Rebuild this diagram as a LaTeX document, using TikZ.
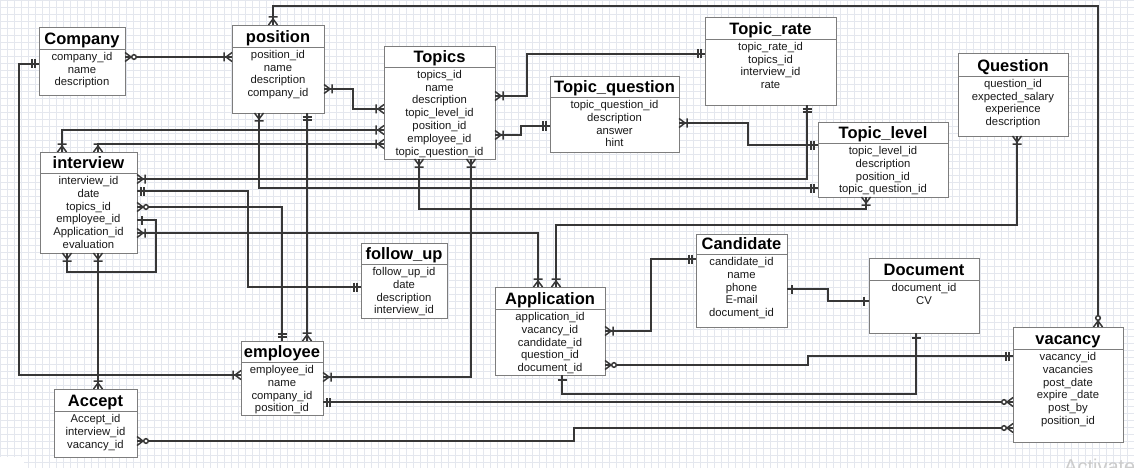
\documentclass[tikz,border=0pt]{standalone}
\usepackage{fontspec}
\setmainfont{Liberation Sans}
\usetikzlibrary{arrows.meta}
\definecolor{gridc}{RGB}{228,231,238}
\definecolor{boxc}{RGB}{125,125,125}
\definecolor{linec}{RGB}{55,55,55}
\definecolor{txtc}{RGB}{25,25,25}

% ER markers (tip at the entity border, line runs through)
\pgfdeclarearrow{
  name = ERmany,
  parameters = {\the\pgfarrowlinewidth},
  setup code = {\pgfarrowssettipend{0pt}\pgfarrowssetlineend{0pt}\pgfarrowssetbackend{-7pt}},
  drawing code = {
    \pgfsetdash{}{0pt}
    \pgfpathmoveto{\pgfqpoint{0pt}{4.5pt}}
    \pgfpathlineto{\pgfqpoint{-6pt}{0pt}}
    \pgfpathlineto{\pgfqpoint{0pt}{-4.5pt}}
    \pgfusepathqstroke
  }
}
\pgfdeclarearrow{
  name = ERom,
  parameters = {\the\pgfarrowlinewidth},
  setup code = {\pgfarrowssettipend{0pt}\pgfarrowssetlineend{0pt}\pgfarrowssetbackend{-9pt}},
  drawing code = {
    \pgfsetdash{}{0pt}
    \pgfpathmoveto{\pgfqpoint{0pt}{4.5pt}}
    \pgfpathlineto{\pgfqpoint{-6pt}{0pt}}
    \pgfpathlineto{\pgfqpoint{0pt}{-4.5pt}}
    \pgfpathmoveto{\pgfqpoint{-8pt}{4.5pt}}
    \pgfpathlineto{\pgfqpoint{-8pt}{-4.5pt}}
    \pgfusepathqstroke
  }
}
\pgfdeclarearrow{
  name = ERzm,
  parameters = {\the\pgfarrowlinewidth},
  setup code = {\pgfarrowssettipend{0pt}\pgfarrowssetlineend{0pt}\pgfarrowssetbackend{-12pt}},
  drawing code = {
    \pgfsetdash{}{0pt}
    \pgfpathmoveto{\pgfqpoint{0pt}{4.5pt}}
    \pgfpathlineto{\pgfqpoint{-6pt}{0pt}}
    \pgfpathlineto{\pgfqpoint{0pt}{-4.5pt}}
    \pgfusepathqstroke
    \pgfsetfillcolor{white}
    \pgfpathcircle{\pgfqpoint{-9pt}{0pt}}{2.3pt}
    \pgfusepathqfillstroke
  }
}
\pgfdeclarearrow{
  name = ERmo,
  parameters = {\the\pgfarrowlinewidth},
  setup code = {\pgfarrowssettipend{0pt}\pgfarrowssetlineend{0pt}\pgfarrowssetbackend{-8pt}},
  drawing code = {
    \pgfsetdash{}{0pt}
    \pgfpathmoveto{\pgfqpoint{-4pt}{4.5pt}}
    \pgfpathlineto{\pgfqpoint{-4pt}{-4.5pt}}
    \pgfpathmoveto{\pgfqpoint{-7pt}{4.5pt}}
    \pgfpathlineto{\pgfqpoint{-7pt}{-4.5pt}}
    \pgfusepathqstroke
  }
}
\pgfdeclarearrow{
  name = ERone,
  parameters = {\the\pgfarrowlinewidth},
  setup code = {\pgfarrowssettipend{0pt}\pgfarrowssetlineend{0pt}\pgfarrowssetbackend{-6pt}},
  drawing code = {
    \pgfsetdash{}{0pt}
    \pgfpathmoveto{\pgfqpoint{-5pt}{4.5pt}}
    \pgfpathlineto{\pgfqpoint{-5pt}{-4.5pt}}
    \pgfusepathqstroke
  }
}

\tikzset{
  erbox/.style={rectangle, draw=boxc, fill=white, line width=0.9pt, inner sep=0pt, outer sep=0pt},
  erline/.style={draw=boxc, line width=0.9pt},
  ertitle/.style={anchor=base, inner sep=0pt, font=\fontsize{16.5}{18}\selectfont\bfseries, text=black},
  errow/.style={anchor=base, inner sep=0pt, font=\fontsize{11.3}{12.75}\selectfont, text=txtc},
  conn/.style={draw=linec, line width=1.5pt, line join=miter},
}

% #1 name, #2 x1, #3 y1, #4 x2, #5 y2, #6 y of header line, #7 title, #8 rows
\newcommand\erbox[8]{%
  \node[erbox, minimum width={#4-#2}, minimum height={#5-#3}, anchor=north west] (#1) at (#2,#3) {};
  \draw[erline] (#2,#6) -- (#4,#6);
  \node[ertitle] (#1-title) at ({(#2+#4)/2},{#6-4.5}) {#7};
  \foreach \rr [count=\ii] in {#8} {
    \node[errow] (#1-r\ii) at ({(#2+#4)/2},{#6+11.5+(\ii-1)*12.75}) {\rr};
  }
}

\begin{document}
\begin{tikzpicture}[x=1pt,y=-1pt]
\useasboundingbox (0,0) rectangle (1134,468);
\clip (0,0) rectangle (1134,468);
\fill[white] (0,0) rectangle (1134,468);
\draw[gridc, line width=0.7pt, xstep=7pt, ystep=7pt] (0,0) grid (1134,468);
\fill[white] (0,457) rectangle (24,468);

\erbox{company}{39}{27}{125}{95}{49}{Company}{company\_id,name,description}
\erbox{position}{232}{25}{324}{113}{47}{position}{position\_id,name,description,company\_id}
\erbox{topics}{384}{46}{495}{159}{67}{Topics}{topics\_id,name,description,topic\_level\_id,position\_id,employee\_id,topic\_question\_id}
\erbox{topicq}{550}{76}{679}{152}{97}{Topic\_question}{topic\_question\_id,description,answer,hint}
\erbox{topicrate}{705}{17}{836}{105}{39}{Topic\_rate}{topic\_rate\_id,topics\_id,interview\_id,rate}
\erbox{topiclevel}{818}{122}{948}{197}{143}{Topic\_level}{topic\_level\_id,description,position\_id,topic\_question\_id}
\erbox{question}{958}{53}{1068}{136}{76}{Question}{question\_id,expected\_salary,experience,description}
\erbox{interview}{40}{152}{137}{253}{173}{interview}{interview\_id,date,topics\_id,employee\_id,Application\_id,evaluation}
\erbox{followup}{361}{243}{447}{318}{264}{follow\_up}{follow\_up\_id,date,description,interview\_id}
\erbox{application}{495}{287}{605}{375}{309}{Application}{application\_id,vacancy\_id,candidate\_id,question\_id,document\_id}
\erbox{candidate}{696}{234}{787}{327}{254}{Candidate}{candidate\_id,name,phone,E-mail,document\_id}
\erbox{document}{869}{258}{979}{333}{280}{Document}{document\_id,CV}
\erbox{vacancy}{1013}{327}{1123}{442}{349}{vacancy}{vacancy\_id,vacancies,post\_date,expire \_date,post\_by,position\_id}
\erbox{employee}{241}{341}{323}{415}{362}{employee}{employee\_id,name,company\_id,position\_id}
\erbox{accept}{54}{389}{137}{457}{411}{Accept}{Accept\_id,interview\_id,vacancy\_id}

% connectors
\draw[conn, {ERzm}-{ERom}] (company.east |- 0,57) -- (position.west |- 0,57);
\draw[conn, {ERom}-{ERzm}] (position.north -| 273,0) -- (273,6) -- (1098,6) -- (vacancy.north -| 1098,0);
\draw[conn, {ERom}-{ERom}] (position.east |- 0,89) -- (353,89) -- (353,109) -- (topics.west |- 0,109);
\draw[conn, {ERom}-{ERom}] (interview.north -| 62,0) -- (62,130) -- (topics.west |- 0,130);
\draw[conn, {ERom}-{ERom}] (interview.north -| 98,0) -- (98,144) -- (topics.west |- 0,144);
\draw[conn, {ERom}-{ERmo}] (topics.east |- 0,96) -- (527,96) -- (527,54) -- (topicrate.west |- 0,54);
\draw[conn, {ERom}-{ERmo}] (topics.east |- 0,135) -- (521,135) -- (521,126) -- (topicq.west |- 0,126);
\draw[conn, {ERom}-{ERmo}] (topicq.east |- 0,123) -- (748,123) -- (748,145) -- (topiclevel.west |- 0,145);
\draw[conn, {ERom}-{ERmo}] (interview.east |- 0,179) -- (807,179) -- (topicrate.south -| 807,0);
\draw[conn, {ERom}-{ERmo}] (position.south -| 259,0) -- (259,188) -- (topiclevel.west |- 0,188);
\draw[conn, {ERmo}-{ERom}] (position.south -| 307,0) -- (employee.north -| 307,0);
\draw[conn, {ERom}-{ERom}] (topics.south -| 419,0) -- (419,209) -- (866,209) -- (topiclevel.south -| 866,0);
\draw[conn, {ERom}-{ERom}] (topics.south -| 471,0) -- (471,377) -- (employee.east |- 0,377);
\draw[conn, {ERmo}-{ERmo}] (interview.east |- 0,191) -- (248,191) -- (248,287) -- (followup.west |- 0,287);
\draw[conn, {ERzm}-{ERmo}] (interview.east |- 0,207) -- (282,207) -- (employee.north -| 282,0);
\draw[conn, {ERone}-{ERom}] (interview.east |- 0,220) -- (156,220) -- (156,272) -- (67,272) -- (interview.south -| 67,0);
\draw[conn, {ERom}-{ERom}] (interview.east |- 0,233) -- (538,233) -- (application.north -| 538,0);
\draw[conn, {ERom}-{ERom}] (interview.south -| 98,0) -- (accept.north -| 98,0);
\draw[conn, {ERmo}-{ERom}] (company.west |- 0,64) -- (19,64) -- (19,375) -- (employee.west |- 0,375);
\draw[conn, {ERom}-{ERom}] (question.south -| 1017,0) -- (1017,225) -- (556,225) -- (application.north -| 556,0);
\draw[conn, {ERom}-{ERmo}] (application.east |- 0,331) -- (651,331) -- (651,259) -- (candidate.west |- 0,259);
\draw[conn, {ERzm}-{ERmo}] (application.east |- 0,365) -- (808,365) -- (808,356) -- (vacancy.west |- 0,356);
\draw[conn, {ERone}-{ERone}] (application.south -| 562,0) -- (562,394) -- (916,394) -- (document.south -| 916,0);
\draw[conn, {ERone}-{ERone}] (candidate.east |- 0,289) -- (828,289) -- (828,301) -- (document.west |- 0,301);
\draw[conn, {ERmo}-{ERzm}] (employee.east |- 0,402) -- (vacancy.west |- 0,402);
\draw[conn, {ERzm}-{ERzm}] (accept.east |- 0,441) -- (574,441) -- (574,428) -- (vacancy.west |- 0,428);

\node[anchor=base west, inner sep=0pt, font=\fontsize{20}{24}\selectfont, text=gray!40] (watermark) at (1064,473) {Activate};
\end{tikzpicture}
\end{document}
